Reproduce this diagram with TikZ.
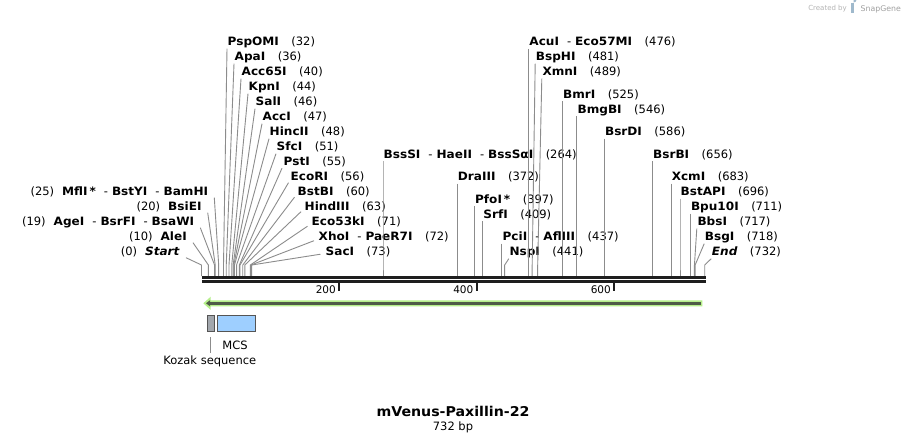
\documentclass[tikz,border=0pt]{standalone}
\usepackage{fontspec}
\setmainfont{DejaVu Sans}[BoldFeatures={FakeStretch=1.05},BoldItalicFeatures={FakeStretch=1.05}]
\usetikzlibrary{calc}
\definecolor{conncol}{HTML}{8C8C8C}
\definecolor{barcol}{HTML}{1E1E1E}
\definecolor{glowcol}{HTML}{B5EF8A}
\definecolor{corecol}{HTML}{4F5B47}
\definecolor{kozakcol}{HTML}{A2A7AD}
\definecolor{mcscol}{HTML}{9ECFFF}
\definecolor{boxline}{HTML}{555555}
\definecolor{creditcol}{HTML}{B4B4B4}
\definecolor{credit2col}{HTML}{A0A0A0}
\definecolor{logocol}{HTML}{9FB9CC}
\newcommand\nm[1]{\textbf{#1}}
\newcommand\dsh{\hspace{8pt}-\hspace{4pt}}
\newcommand\num[1]{\hspace{12.5pt}(#1)}
% #1 start offset, #2 id, #3 site x, #4 label left x, #5 baseline, #6 text
\newcommand\enzR[6][-0.5,3]{%
  \coordinate (s#2) at (#3,265);
  \coordinate (m#2) at (#3,276);
  \node[lab,anchor=base west] (l#2) at (#4,#5) {#6};
  \draw[conn] ([shift={(#1)}]l#2.base west) -- (s#2) -- (m#2);
}
\newcommand\enzL[5]{%
  \coordinate (s#1) at (#2,265);
  \coordinate (m#1) at (#2,276);
  \node[lab,anchor=base east] (l#1) at (#3,#4) {#5};
  \draw[conn] ([shift={(6,2)}]l#1.base east) -- (s#1) -- (m#1);
}
\tikzset{
  lab/.style={inner sep=0pt, font=\fontsize{11.5}{13}\selectfont, text=black},
  conn/.style={draw=conncol, line width=0.9pt},
  featbox/.style={draw=boxline, line width=0.8pt},
}
\begin{document}
\begin{tikzpicture}[x=1pt,y=-1pt]
\useasboundingbox (0,0) rectangle (908,442);
\fill[white] (0,0) rectangle (908,442);

% credit
\node[anchor=base east, inner sep=0pt, font=\fontsize{7}{8}\selectfont, text=creditcol] (cr1) at (847,10.5) {Created by};
\fill[logocol] (851,2.5) rectangle (853.6,13) ;
\fill[logocol] (853.6,2.5) arc[start angle=90, end angle=-90, radius=3] -- cycle;
\node[anchor=base west, inner sep=0pt, font=\fontsize{7.8}{9}\selectfont, text=credit2col] (cr2) at (860.5,11) {SnapGene};

% enzyme labels, right-hand stacks
\enzR{a}{223.5}{227.5}{45.7}{\nm{PspOMI}\num{32}}
\enzR{b}{226.25}{234.5}{60.7}{\nm{ApaI}\num{36}}
\enzR{c}{229}{241.5}{75.7}{\nm{Acc65I}\num{40}}
\enzR{d}{231.75}{248.5}{90.7}{\nm{KpnI}\num{44}}
\enzR{e}{233.13}{255.5}{105.7}{\nm{SalI}\num{46}}
\enzR{f}{233.81}{262.5}{120.7}{\nm{AccI}\num{47}}
\enzR{g}{234.5}{269.5}{135.7}{\nm{HincII}\num{48}}
\enzR{h}{236.56}{276.5}{150.7}{\nm{SfcI}\num{51}}
\enzR[-1.5,2.5]{i}{239.31}{283.5}{165.7}{\nm{PstI}\num{55}}
\enzR[-2,2]{j}{240}{290.5}{180.7}{\nm{EcoRI}\num{56}}
\enzR[-3,1.5]{k}{242.75}{297.5}{195.7}{\nm{BstBI}\num{60}}
\enzR[-3.5,1]{l}{244.81}{304.5}{210.7}{\nm{HindIII}\num{63}}
\enzR[-4,0.5]{m}{250.31}{311.5}{225.7}{\nm{Eco53kI}\num{71}}
\enzR[-4.5,0]{n}{251}{318.5}{240.7}{\nm{XhoI}\dsh\nm{PaeR7I}\num{72}}
\enzR[-5,-1.5]{o}{251.69}{325.5}{255.7}{\nm{SacI}\num{73}}

\enzR{p}{383}{383.5}{158}{\nm{BssSI}\dsh\nm{HaeII}\dsh\nm{BssSαI}\num{264}}
\enzR{q}{457.25}{457.75}{180.7}{\nm{DraIII}\num{372}}
\enzR{r}{474.44}{474.94}{203.3}{\nm{PfoI\,*}\num{397}}
\enzR{s}{482.69}{483.19}{218}{\nm{SrfI}\num{409}}
\enzR{t}{501.94}{502.44}{240.7}{\nm{PciI}\dsh\nm{AflIII}\num{437}}
\enzR{u}{504.69}{509.3}{255.7}{\nm{NspI}\num{441}}
\enzR{v}{528.75}{529.25}{45.7}{\nm{AcuI}\dsh\nm{Eco57MI}\num{476}}
\enzR{w}{532.19}{535.7}{60.7}{\nm{BspHI}\num{481}}
\enzR{x}{537.69}{542.3}{75.7}{\nm{XmnI}\num{489}}
\enzR{y}{562.44}{562.94}{98}{\nm{BmrI}\num{525}}
\enzR{z}{576.88}{577.38}{113}{\nm{BmgBI}\num{546}}
\enzR{aa}{604.38}{604.88}{135.7}{\nm{BsrDI}\num{586}}
\enzR{ab}{652.5}{653}{158}{\nm{BsrBI}\num{656}}
\enzR{ac}{671.06}{671.56}{180.7}{\nm{XcmI}\num{683}}
\enzR{ad}{680}{680.5}{195.7}{\nm{BstAPI}\num{696}}
\enzR{ae}{690.31}{690.81}{210.7}{\nm{Bpu10I}\num{711}}
\enzR{af}{694.44}{697.3}{225.7}{\nm{BbsI}\num{717}}
\enzR{ag}{695.13}{704.7}{240.7}{\nm{BsgI}\num{718}}
\enzR{ah}{704.75}{711.7}{255.7}{\textbf{\textit{End}}\num{732}}

% left-hand stack
\enzL{L0}{201.5}{180}{255.7}{(0)\hspace{8pt}\textbf{\textit{Start}}}
\enzL{L1}{208.38}{187}{240.7}{(10)\hspace{8pt}\nm{AleI}}
\enzL{L2}{214.56}{194.3}{225.7}{(19)\hspace{8pt}\nm{AgeI}\dsh\nm{BsrFI}\dsh\nm{BsaWI}}
\enzL{L3}{215.25}{201.7}{210.7}{(20)\hspace{8pt}\nm{BsiEI}}
\enzL{L4}{218.69}{208.3}{195.7}{(25)\hspace{8pt}\nm{MflI\,*}\dsh\nm{BstYI}\dsh\nm{BamHI}}

% map backbone
\fill[barcol] (201.5,276) rectangle (705.5,279);
\fill[barcol] (201.5,280.3) rectangle (705.5,283);

% ticks
\foreach \p/\t in {339/200, 476.5/400, 614/600}{
  \fill[barcol] (\p-1,283) rectangle (\p+1,291);
  \node[anchor=base east, inner sep=0pt, font=\fontsize{10.5}{12}\selectfont] (tk\t) at (\p-3,293.5) {\t};
}

% feature arrow
\fill[glowcol] (203.3,303.3) -- (210.7,296.7) -- (210.7,300.3) -- (702.3,300.3)
  -- (702.3,306.3) -- (210.7,306.3) -- (210.7,309.9) -- cycle;
\fill[corecol] (700.7,302) rectangle (209.5,304.6);
\fill[corecol] (206,303.3) -- (210,300.3) -- (210,306.3) -- cycle;

% features
\draw[featbox, fill=kozakcol] (207.3,315.7) rectangle (214.3,331);
\node[inner sep=0pt, minimum width=7pt, minimum height=15.3pt] (kz) at (210.8,323.35) {};
\draw[featbox, fill=mcscol] (217.7,315.7) rectangle (255.7,331);
\node[inner sep=0pt, minimum width=38pt, minimum height=15.3pt] (mcs) at (236.7,323.35) {};
\node[lab, anchor=base] (mcslab) at (235,349) {MCS};
\node[lab, anchor=base] (kzlab) at (209.8,364.5) {Kozak sequence};
\draw[conn] ([shift={(0,6)}]kz.south) -- ([shift={(0,22)}]kz.south);

% title
\node[anchor=base, inner sep=0pt, font=\fontsize{13.5}{16}\selectfont\bfseries] (title) at (453,416.5) {mVenus-Paxillin-22};
\node[lab, anchor=base] (len) at (453,430.5) {732 bp};
\end{tikzpicture}
\end{document}
